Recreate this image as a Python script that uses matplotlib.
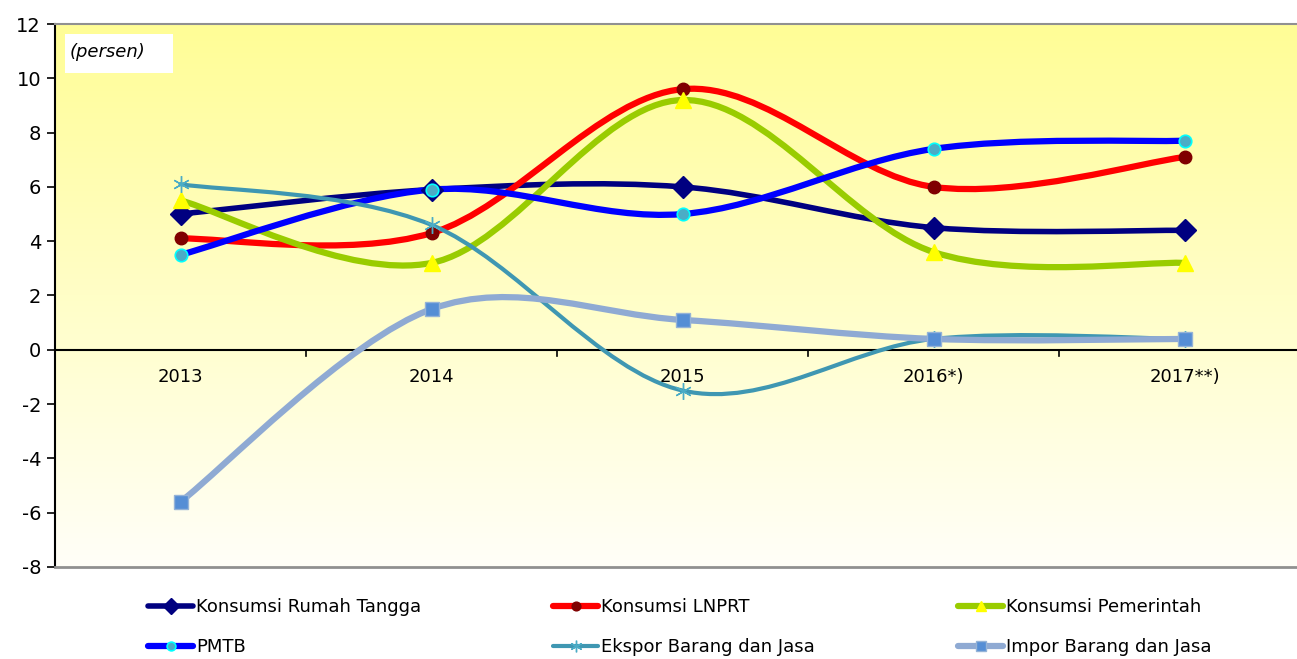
import numpy as np
import matplotlib
matplotlib.use("Agg")
import matplotlib.pyplot as plt
from matplotlib.path import Path
from matplotlib.patches import PathPatch, Rectangle
from matplotlib.lines import Line2D

plt.rcParams["font.family"] = ["DejaVu Sans"]

years = ["2013", "2014", "2015", "2016*)", "2017**)"]

rumah_tangga = [5.0, 5.9, 6.0, 4.5, 4.4]
lnprt = [4.1, 4.3, 9.6, 6.0, 7.1]
pemerintah = [5.5, 3.2, 9.2, 3.6, 3.2]
pmtb = [3.5, 5.9, 5.0, 7.4, 7.7]
ekspor = [6.1, 4.6, -1.5, 0.4, 0.4]
impor = [-5.6, 1.5, 1.1, 0.4, 0.4]

series = [
    ("Konsumsi Rumah Tangga", rumah_tangga,
     dict(color="#000080", lw=4.0, marker="D", ms=11, mfc="#000080", mec="#000080")),
    ("Konsumsi LNPRT", lnprt,
     dict(color="#FF0000", lw=4.5, marker="o", ms=9, mfc="#800000", mec="#800000")),
    ("Konsumsi Pemerintah", pemerintah,
     dict(color="#99CC00", lw=4.5, marker="^", ms=11, mfc="#FFFF00", mec="#FFFF00")),
    ("PMTB", pmtb,
     dict(color="#0000FF", lw=4.5, marker="o", ms=9, mfc="#4BACC6", mec="#00FFFF", mew=1.2)),
    ("Ekspor Barang dan Jasa", ekspor,
     dict(color="#3F97B2", lw=3.0, marker=(6, 2, 0), ms=12, mfc="#4BACC6", mec="#4BACC6", mew=1.0)),
    ("Impor Barang dan Jasa", impor,
     dict(color="#8FAAD3", lw=4.5, marker="s", ms=10, mfc="#558ED5", mec="#95B3D7", mew=1.0)),
]


def smooth_path(xs, ys):
    # Excel style smoothed line: cubic Bezier, control points at 1/6 of neighbour span
    pts = np.column_stack([xs, ys]).astype(float)
    n = len(pts)
    verts = [pts[0]]
    codes = [Path.MOVETO]
    for i in range(n - 1):
        p_prev = pts[max(i - 1, 0)]
        p0, p1 = pts[i], pts[i + 1]
        p_next = pts[min(i + 2, n - 1)]
        c1 = p0 + (p1 - p_prev) / 6.0
        c2 = p1 - (p_next - p0) / 6.0
        verts += [c1, c2, p1]
        codes += [Path.CURVE4] * 3
    return Path(verts, codes)


fig = plt.figure(figsize=(12.97, 6.59), dpi=100)
ax = fig.add_axes([55 / 1297, (659 - 567) / 659, 1255 / 1297, 543 / 659])

ax.set_xlim(-0.5, 4.5)
ax.set_ylim(-8, 12)

# yellow to white gradient background
grad = np.linspace(0, 1, 256).reshape(-1, 1)
top = np.array([255, 253, 150]) / 255
bot = np.array([255, 255, 248]) / 255
img = top[None, None, :] * (1 - grad[:, :, None]) + bot[None, None, :] * grad[:, :, None]
ax.imshow(img, extent=[-0.5, 4.5, -8, 12], aspect="auto", zorder=0)

x = np.arange(len(years))
for label, vals, st in series:
    path = smooth_path(x, vals)
    ax.add_patch(PathPatch(path, facecolor="none", edgecolor=st["color"],
                           lw=st["lw"], capstyle="round", zorder=3))
    ax.plot(x, vals, linestyle="none", marker=st["marker"], ms=st["ms"],
            mfc=st["mfc"], mec=st["mec"], mew=st.get("mew", 1.0), zorder=4)

# axes styling
ax.axhline(0, color="black", lw=1.5, zorder=2)
ax.spines["right"].set_visible(False)
ax.spines["left"].set_color("black")
ax.spines["left"].set_linewidth(1.5)
ax.spines["top"].set_color("#909090")
ax.spines["top"].set_linewidth(1.5)
ax.spines["bottom"].set_color("#909090")
ax.spines["bottom"].set_linewidth(2)

ax.set_yticks(np.arange(-8, 13, 2))
ax.set_yticklabels([str(v) for v in range(-8, 13, 2)], fontsize=14)
ax.tick_params(axis="y", direction="out", length=6, width=1.2, pad=4)

ax.set_xticks(x)
ax.tick_params(axis="x", which="both", bottom=False, labelbottom=False)
for xi, lab in zip(x, years):
    ax.text(xi, -1.0, lab, ha="center", va="center", fontsize=13, zorder=5)
for xb in np.arange(0.5, 4.0, 1.0):
    ax.plot([xb, xb], [0, -0.22], color="black", lw=1.2, zorder=2, clip_on=False)

# "(persen)" label in a white box
ax.add_patch(Rectangle((10 / 1255, (567 - 73) / 543), 108 / 1255, 39 / 543,
                       transform=ax.transAxes, facecolor="white", edgecolor="none", zorder=5))
ax.text(15 / 1255, (567 - 52) / 543, "(persen)", transform=ax.transAxes, fontsize=13,
        style="italic", va="center", ha="left", zorder=6)

# legend, three columns of two entries
handles = []
for label, vals, st in series:
    handles.append(Line2D([], [], color=st["color"], lw=st["lw"], marker=st["marker"],
                          ms=st["ms"] * 0.7, mfc=st["mfc"], mec=st["mec"],
                          mew=st.get("mew", 1.0), solid_capstyle="round"))
col_x = [148 / 1297, 553 / 1297, 958 / 1297]
for c in range(3):
    idx = [c, c + 3]
    fig.legend([handles[i] for i in idx], [series[i][0] for i in idx],
               loc="center left", bbox_to_anchor=(col_x[c], 1 - 627 / 659),
               frameon=False, fontsize=13, handlelength=2.5,
               handletextpad=0.15, labelspacing=1.2, borderpad=0,
               borderaxespad=0)

fig.savefig("out.png", dpi=100)
